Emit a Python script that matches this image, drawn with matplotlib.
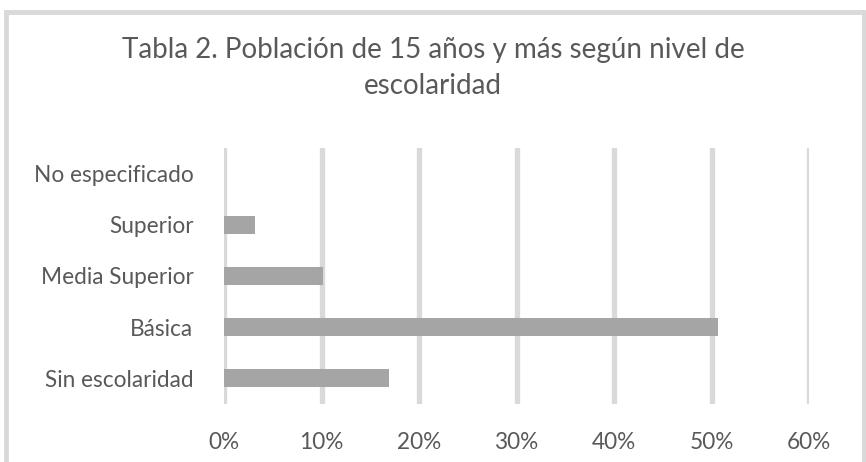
import matplotlib
matplotlib.use("Agg")
import matplotlib.pyplot as plt
from matplotlib.patches import Rectangle
from matplotlib.ticker import PercentFormatter

categories = ["Sin escolaridad", "Básica", "Media Superior", "Superior", "No especificado"]
values = [16.9, 50.7, 10.2, 3.2, 0.0]
x_ticks = [0, 10, 20, 30, 40, 50, 60]
title = "Tabla 2. Población de 15 años y más según nivel de\nescolaridad"

plt.rcParams["font.family"] = ["Lato", "DejaVu Sans"]
text_color = "#595959"

W, H = 866, 462
fig = plt.figure(figsize=(W / 100, H / 100), dpi=100)

# chart border like the excel frame
fig.patches.append(Rectangle((6 / W, -0.1), (858 / W), (H - 12) / H + 0.1,
                             transform=fig.transFigure, fill=False,
                             edgecolor="#D9D9D9", linewidth=3.5))

ax = fig.add_axes([224 / W, (H - 404) / H, (809 - 224) / W, (404 - 148) / H])
ypos = range(len(categories))
ax.barh(ypos, values, height=0.355, color="#A5A5A5", zorder=3)

ax.set_xlim(0, 60)
ax.set_ylim(-0.5, len(categories) - 0.5)
ax.set_xticks(x_ticks)
ax.xaxis.set_major_formatter(PercentFormatter(decimals=0))
ax.set_yticks(list(ypos))
ax.set_yticklabels(categories)
ax.grid(axis="x", color="#D9D9D9", linewidth=3.8, zorder=0)
ax.tick_params(axis="both", length=0, colors=text_color, labelsize=16.3)
ax.tick_params(axis="x", pad=20)
ax.tick_params(axis="y", pad=22)
for s in ax.spines.values():
    s.set_visible(False)

fig.text(0.5, (H - 68) / H, title, ha="center", va="center", fontsize=20,
         color=text_color, linespacing=1.5)

fig.savefig("out.png", dpi=100)
